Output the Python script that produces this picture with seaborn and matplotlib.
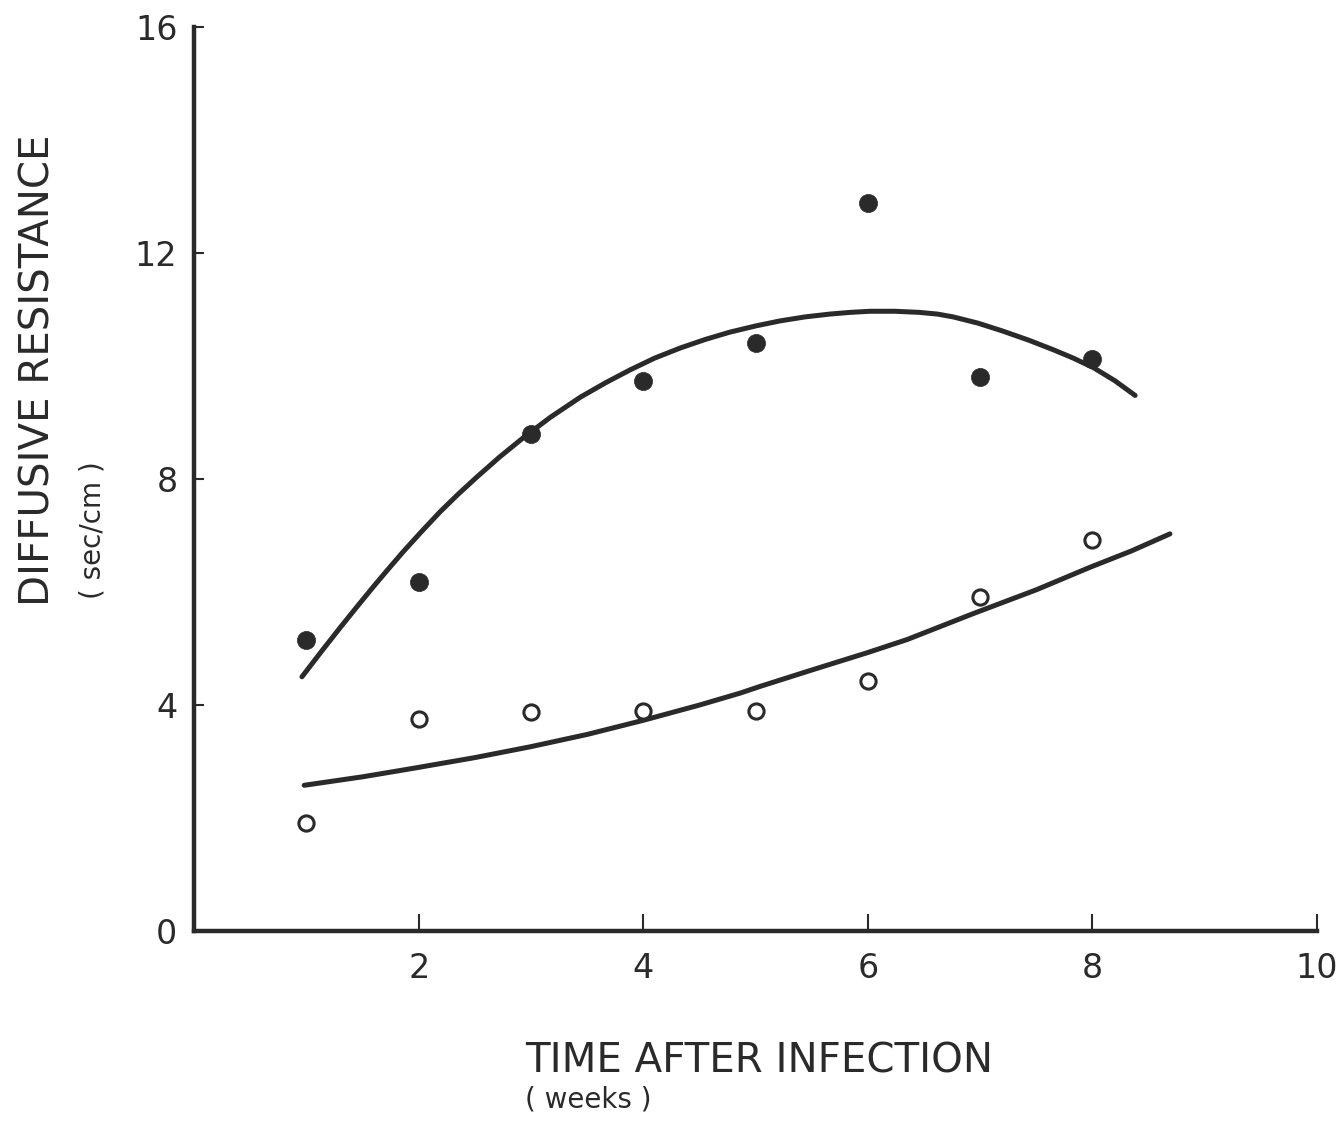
import matplotlib
matplotlib.use("Agg")
import matplotlib.pyplot as plt
import seaborn as sns

# ---- data ----
weeks = [1, 2, 3, 4, 5, 6, 7, 8]
infected = [5.16, 6.17, 8.79, 9.73, 10.41, 12.89, 9.80, 10.12]     # filled dots
healthy = [1.91, 3.75, 3.88, 3.89, 3.89, 4.42, 5.91, 6.92]         # open dots

upper_x = [0.96, 1.13, 1.30, 1.45, 1.59, 1.73, 1.86, 2.02, 2.19, 2.35, 2.52, 2.72, 2.93,
           3.17, 3.44, 3.66, 3.88, 4.10, 4.33, 4.55, 4.77, 5.00, 5.22, 5.44, 5.66,
           5.84, 6.02, 6.24, 6.46, 6.62, 6.76, 6.98, 7.20, 7.43, 7.65, 7.83, 8.01,
           8.20, 8.38]
upper_y = [4.50, 4.94, 5.37, 5.74, 6.08, 6.41, 6.71, 7.06, 7.42, 7.73, 8.04, 8.39, 8.73,
           9.09, 9.45, 9.70, 9.93, 10.14, 10.32, 10.47, 10.60, 10.71, 10.80, 10.87, 10.92,
           10.95, 10.97, 10.97, 10.95, 10.92, 10.87, 10.76, 10.62, 10.46, 10.29, 10.14, 9.97,
           9.74, 9.48]

lower_x = [0.98, 1.5, 1.95, 2.5, 2.99, 3.5, 4.0, 4.5, 4.86, 5.04, 5.5, 6.0, 6.35, 6.94,
           7.5, 7.98, 8.35, 8.69]
lower_y = [2.58, 2.73, 2.88, 3.07, 3.26, 3.48, 3.73, 4.00, 4.21, 4.33, 4.62, 4.93, 5.16,
           5.62, 6.04, 6.44, 6.73, 7.03]

x_ticks = [2, 4, 6, 8, 10]
y_ticks = [0, 4, 8, 12, 16]

sns.set_theme(style="ticks")
plt.rcParams["font.family"] = ["DejaVu Sans"]

fig = plt.figure(figsize=(13.39, 11.28), dpi=100)
ax = fig.add_axes([0.145, 0.1746, 0.8386, 0.8014])

ink = "#2a2a2a"

sns.lineplot(x=upper_x, y=upper_y, ax=ax, color=ink, linewidth=3.6, sort=False,
             estimator=None)
sns.lineplot(x=lower_x, y=lower_y, ax=ax, color=ink, linewidth=3.6, sort=False,
             estimator=None)
sns.scatterplot(x=weeks, y=infected, ax=ax, color=ink, s=170, edgecolor=ink,
                linewidth=0.5, zorder=5)
sns.scatterplot(x=weeks, y=healthy, ax=ax, facecolor="white", s=120,
                edgecolor=ink, linewidth=2.2, zorder=5)

ax.set_xlim(0, 10)
ax.set_ylim(0, 16)
ax.set_xticks(x_ticks)
ax.set_yticks(y_ticks)
ax.set_xticklabels([str(t) for t in x_ticks], fontsize=24, color=ink)
ax.set_yticklabels([str(t) for t in y_ticks], fontsize=24, color=ink)
ax.tick_params(axis="x", direction="in", length=12, width=1.5, color=ink, pad=15)
ax.tick_params(axis="y", direction="in", length=7, width=1.5, color=ink, pad=12)

for s in ["top", "right"]:
    ax.spines[s].set_visible(False)
for s in ["left", "bottom"]:
    ax.spines[s].set_linewidth(3.2)
    ax.spines[s].set_color(ink)

ax.set_xlabel("")
ax.set_ylabel("")

fig.text(0.392, 0.049, "TIME AFTER INFECTION", fontsize=29, color=ink,
         ha="left", va="baseline")
fig.text(0.392, 0.018, "( weeks )", fontsize=20, color=ink,
         ha="left", va="baseline")
fig.text(0.029, 0.672, "DIFFUSIVE RESISTANCE", fontsize=29, color=ink,
         rotation=90, ha="center", va="center")
fig.text(0.069, 0.530, "( sec/cm )", fontsize=20, color=ink,
         rotation=90, ha="center", va="center")

fig.savefig("out.png", dpi=100, facecolor="white")
